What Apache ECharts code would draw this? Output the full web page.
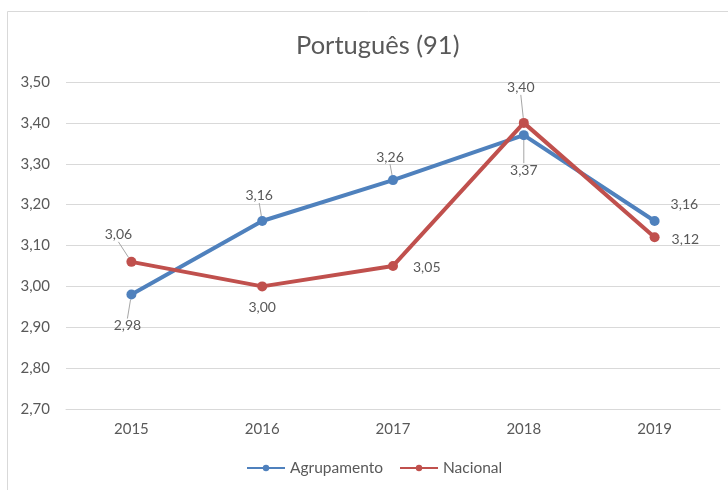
<!DOCTYPE html>
<html><head><meta charset="utf-8">
<script src="https://cdn.jsdelivr.net/npm/echarts@6/dist/echarts.min.js"></script>
<style>html,body{margin:0;padding:0;background:#fff}#c{width:728px;height:490px}</style>
</head><body><div id="c"></div>
<script>
const categories = ['2015','2016','2017','2018','2019'];
const agrupamento = [2.98, 3.16, 3.26, 3.37, 3.16];
const nacional = [3.06, 3.00, 3.05, 3.40, 3.12];
const titleText = 'Português (91)';
const seriesNames = ['Agrupamento','Nacional'];

const FONT = 'Lato, "Open Sans", sans-serif';
const fmt = v => v.toFixed(2).replace('.', ',');

// label placement per point (style only)
const aPos = [
  {position:'bottom', dx:-4, dy:14, line:true},
  {position:'top', dx:-3, dy:-8, line:true},
  {position:'top', dx:-3, dy:-6, line:true},
  {position:'bottom', dx:0, dy:18, line:true},
  {position:'right', dx:6, dy:-16, line:false}
];
const nPos = [
  {position:'top', dx:-13, dy:-10, line:true},
  {position:'bottom', dx:0, dy:4, line:false},
  {position:'right', dx:10, dy:2, line:false},
  {position:'top', dx:-3, dy:-18, line:true},
  {position:'right', dx:7, dy:2, line:false}
];

function mkData(vals, pos) {
  return vals.map((v, i) => ({
    value: v,
    label: {position: pos[i].position},
    labelLine: {show: pos[i].line}
  }));
}

const chart = echarts.init(document.getElementById('c'), null, {renderer:'canvas'});
chart.setOption({
  animation: false,
  backgroundColor: '#fff',
  textStyle: {fontFamily: FONT},
  title: {
    text: titleText, left: 291, top: 28,
    textStyle: {fontFamily: FONT, fontSize: 25.5, fontWeight: 'normal', color: '#595959'}
  },
  graphic: [{
    type: 'rect', shape: {x: 7.5, y: 11.5, width: 760, height: 520},
    style: {fill: 'none', stroke: '#d9d9d9', lineWidth: 1}, silent: true
  }],
  legend: {
    bottom: 9, left: 241, itemWidth: 38, itemHeight: 8, itemGap: 16,
    textStyle: {fontFamily: FONT, fontSize: 15.5, color: '#595959'},
    data: seriesNames
  },
  grid: {left: 66, right: 8, top: 82, bottom: 81},
  xAxis: {
    type: 'category', data: categories, boundaryGap: true,
    axisLine: {show: true, lineStyle: {color: '#d9d9d9'}},
    axisTick: {show: false},
    axisLabel: {color: '#595959', fontSize: 15, fontFamily: FONT, margin: 13}
  },
  yAxis: {
    type: 'value', min: 2.7, max: 3.5, interval: 0.1,
    axisLine: {show: false}, axisTick: {show: false},
    splitLine: {lineStyle: {color: '#d9d9d9', width: 1}},
    axisLabel: {color: '#595959', fontSize: 15, fontFamily: FONT, margin: 16,
      formatter: v => fmt(v)}
  },
  series: [
    {
      name: seriesNames[0], type: 'line', data: mkData(agrupamento, aPos),
      symbol: 'circle', symbolSize: 10,
      lineStyle: {color: '#4F81BD', width: 4},
      itemStyle: {color: '#4F81BD'},
      label: {show: true, color: '#595959', fontSize: 14, fontFamily: FONT,
        formatter: p => fmt(p.value)},
      labelLine: {show: true, lineStyle: {color: '#a6a6a6', width: 1}},
      labelLayout: p => ({dx: aPos[p.dataIndex].dx, dy: aPos[p.dataIndex].dy}),
      z: 3
    },
    {
      name: seriesNames[1], type: 'line', data: mkData(nacional, nPos),
      symbol: 'circle', symbolSize: 10,
      lineStyle: {color: '#C0504D', width: 4},
      itemStyle: {color: '#C0504D'},
      label: {show: true, color: '#595959', fontSize: 14, fontFamily: FONT,
        formatter: p => fmt(p.value)},
      labelLine: {show: true, lineStyle: {color: '#a6a6a6', width: 1}},
      labelLayout: p => ({dx: nPos[p.dataIndex].dx, dy: nPos[p.dataIndex].dy}),
      z: 4
    }
  ]
});
</script></body></html>
